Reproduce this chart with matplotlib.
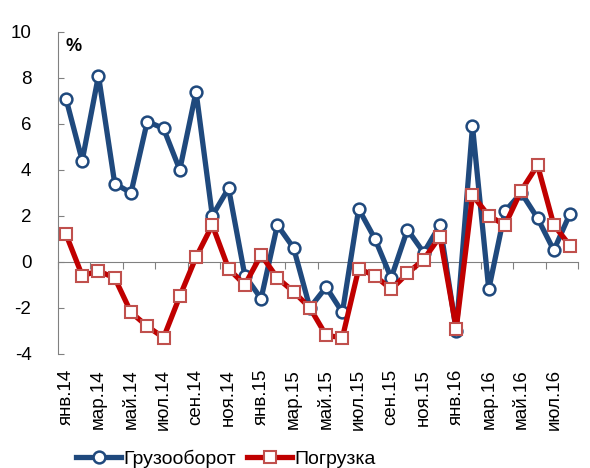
import numpy as np
import matplotlib.pyplot as plt

plt.rcParams['font.family'] = ['Liberation Sans', 'DejaVu Sans']
plt.rcParams['axes.unicode_minus'] = False

# monthly data, Jan 2014 - Aug 2016
months = ['янв.14', 'фев.14', 'мар.14', 'апр.14', 'май.14', 'июн.14', 'июл.14', 'авг.14',
          'сен.14', 'окт.14', 'ноя.14', 'дек.14',
          'янв.15', 'фев.15', 'мар.15', 'апр.15', 'май.15', 'июн.15', 'июл.15', 'авг.15',
          'сен.15', 'окт.15', 'ноя.15', 'дек.15',
          'янв.16', 'фев.16', 'мар.16', 'апр.16', 'май.16', 'июн.16', 'июл.16', 'авг.16']
gruzooborot = [7.1, 4.4, 8.1, 3.4, 3.0, 6.1, 5.8, 4.0, 7.4, 2.0, 3.2, -0.6,
               -1.6, 1.6, 0.6, -2.0, -1.1, -2.2, 2.3, 1.0, -0.7, 1.4, 0.4, 1.6,
               -3.0, 5.9, -1.2, 2.2, 3.0, 1.9, 0.5, 2.1]
pogruzka = [1.2, -0.6, -0.4, -0.7, -2.2, -2.8, -3.3, -1.5, 0.2, 1.6, -0.3, -1.0,
            0.3, -0.7, -1.3, -2.0, -3.2, -3.3, -0.3, -0.6, -1.2, -0.5, 0.1, 1.1,
            -2.9, 2.9, 2.0, 1.6, 3.1, 4.2, 1.6, 0.7]

x = np.arange(len(months))
blue = '#1F497D'
red = '#C00000'

fig = plt.figure(figsize=(5.9, 4.68), dpi=100)
ax = fig.add_axes([0.098, 0.244, 0.882, 0.688])

ax.plot(x, gruzooborot, color=blue, lw=3.8, marker='o', ms=8.5,
        mfc='white', mec=blue, mew=1.8, label='Грузооборот', zorder=3)
ax.plot(x, pogruzka, color=red, lw=3.8, marker='s', ms=8,
        mfc='white', mec='#C0504D', mew=1.5, label='Погрузка', zorder=4)

ax.set_xlim(-0.5, len(months) - 0.5)
ax.set_ylim(-4, 10)
ax.set_yticks(np.arange(-4, 11, 2))
ax.tick_params(axis='y', direction='in', length=4, color='#808080',
               labelsize=13.5, pad=19)

# category labels every second month at the bottom
ax.set_xticks(x[::2])
ax.set_xticklabels(months[::2], rotation=90, fontsize=13.5)
ax.tick_params(axis='x', length=0, pad=11)

for s in ['top', 'right', 'bottom']:
    ax.spines[s].set_visible(False)
ax.spines['left'].set_color('#808080')

# zero line with boundary ticks
zero = ax.secondary_xaxis(4 / 14)
zero.set_xticks(np.arange(-0.5, len(months), 2))
zero.tick_params(direction='out', length=5, color='#808080', labelbottom=False)
zero.spines['bottom'].set_color('#808080')

ax.text(0.014, 0.98, '%', transform=ax.transAxes, fontsize=13, fontweight='bold',
        va='top')

ax.legend(loc='center', bbox_to_anchor=(0.323, -0.325), ncol=2, frameon=False,
          fontsize=14, handlelength=2.3, handletextpad=0.1, columnspacing=0.6,
          borderpad=0, borderaxespad=0)

plt.savefig('out.png')
